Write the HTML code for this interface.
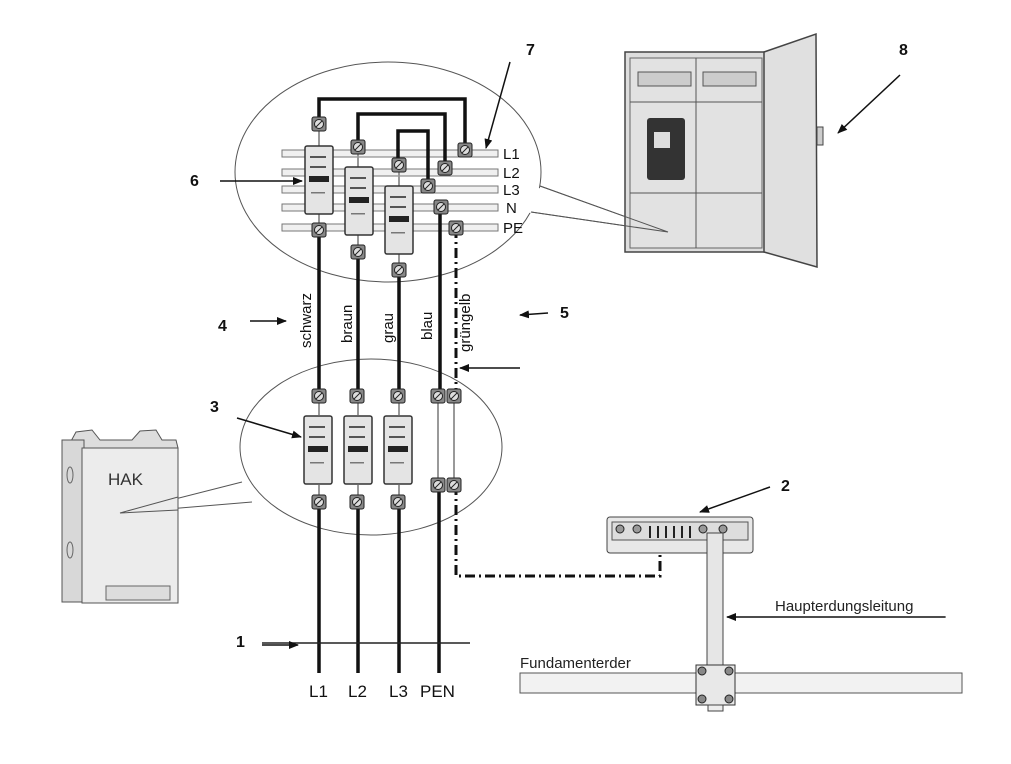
<!DOCTYPE html>
<html><head><meta charset="utf-8"><style>
html,body{margin:0;padding:0;background:#fff;}
svg{display:block;font-family:"Liberation Sans",sans-serif;}
</style></head><body>
<svg width="1011" height="764" viewBox="0 0 1011 764" xmlns="http://www.w3.org/2000/svg">
<defs>
<marker id="ah" markerWidth="10" markerHeight="8" refX="9" refY="4" orient="auto" markerUnits="userSpaceOnUse">
<path d="M0,0 L10,4 L0,8 Z" fill="#111"/></marker>
<g id="term"><rect x="-7" y="-7" width="14" height="14" rx="2" fill="#888" stroke="#222" stroke-width="1"/><circle r="4.5" fill="#ddd" stroke="#222"/><line x1="-3" y1="3" x2="3" y2="-3" stroke="#222"/></g>
<g id="fuse"><rect x="0" y="0" width="28" height="68" rx="2" fill="#e4e4e4" stroke="#333" stroke-width="1.5"/>
<rect x="5" y="10" width="16" height="2" fill="#555"/><rect x="5" y="20" width="16" height="2" fill="#555"/><rect x="4" y="30" width="20" height="6" fill="#222"/><rect x="6" y="46" width="14" height="1.5" fill="#777"/></g>
</defs>

<ellipse cx="388" cy="172" rx="153" ry="110" fill="#fff" stroke="#555" stroke-width="1"/>
<polygon points="533,186 668,232 524,212" fill="#fff"/>
<polyline points="540,186 668,232 531,212" fill="none" stroke="#555"/>
<ellipse cx="371" cy="447" rx="131" ry="88" fill="#fff" stroke="#555" stroke-width="1"/>
<polygon points="250,482 120,513 262,502" fill="#fff"/>
<polyline points="242,482 120,513 252,502" fill="none" stroke="#555"/>

<g fill="#f0f0f0" stroke="#777" stroke-width="1">
<rect x="282" y="150" width="216" height="7"/>
<rect x="282" y="169" width="216" height="7"/>
<rect x="282" y="186" width="216" height="7"/>
<rect x="282" y="204" width="216" height="7"/>
<rect x="282" y="224" width="216" height="7"/>
</g>
<g font-size="15" fill="#111"><text x="503" y="159">L1</text><text x="503" y="178">L2</text><text x="503" y="195">L3</text><text x="506" y="213">N</text><text x="503" y="233">PE</text></g>

<g fill="none" stroke="#111" stroke-width="3.5">
<path d="M319,124 V99 H465 V150"/>
<path d="M358,147 V114 H445 V168"/>
<path d="M398,165 V131 H428 V186"/>
<path d="M319,230 V396"/><path d="M358,252 V396"/><path d="M399,270 V396"/><path d="M440,207 V396"/>
<path d="M319,502 V673"/><path d="M358,502 V673"/><path d="M399,502 V673"/><path d="M439,485 V673"/>
</g>
<g fill="none" stroke="#111" stroke-width="3" stroke-dasharray="10,4,2,4">
<path d="M456,228 V396"/><path d="M456,485 V576 H660 V540"/>
</g>
<g stroke="#999" stroke-width="2"><line x1="438" y1="396" x2="438" y2="485"/><line x1="454" y1="396" x2="454" y2="485"/>
<line x1="319" y1="130" x2="319" y2="146"/><line x1="358" y1="152" x2="358" y2="167"/><line x1="399" y1="170" x2="399" y2="186"/>
<line x1="319" y1="213" x2="319" y2="225"/><line x1="358" y1="233" x2="358" y2="247"/><line x1="399" y1="253" x2="399" y2="265"/>
<line x1="319" y1="400" x2="319" y2="415"/><line x1="358" y1="400" x2="358" y2="415"/><line x1="399" y1="400" x2="399" y2="415"/>
<line x1="319" y1="485" x2="319" y2="498"/><line x1="358" y1="485" x2="358" y2="498"/><line x1="399" y1="485" x2="399" y2="498"/></g>

<use href="#fuse" x="305" y="146"/><use href="#fuse" x="345" y="167"/><use href="#fuse" x="385" y="186"/>
<use href="#fuse" x="304" y="416"/><use href="#fuse" x="344" y="416"/><use href="#fuse" x="384" y="416"/>

<use href="#term" x="319" y="124"/><use href="#term" x="358" y="147"/><use href="#term" x="399" y="165"/>
<use href="#term" x="465" y="150"/><use href="#term" x="445" y="168"/><use href="#term" x="428" y="186"/>
<use href="#term" x="441" y="207"/><use href="#term" x="456" y="228"/>
<use href="#term" x="319" y="230"/><use href="#term" x="358" y="252"/><use href="#term" x="399" y="270"/>
<use href="#term" x="319" y="396"/><use href="#term" x="357" y="396"/><use href="#term" x="398" y="396"/>
<use href="#term" x="438" y="396"/><use href="#term" x="454" y="396"/>
<use href="#term" x="319" y="502"/><use href="#term" x="357" y="502"/><use href="#term" x="398" y="502"/>
<use href="#term" x="438" y="485"/><use href="#term" x="454" y="485"/>

<g font-size="15" fill="#111">
<text transform="translate(311,348) rotate(-90)">schwarz</text>
<text transform="translate(352,343) rotate(-90)">braun</text>
<text transform="translate(393,343) rotate(-90)">grau</text>
<text transform="translate(432,340) rotate(-90)">blau</text>
<text transform="translate(470,352) rotate(-90)">grüngelb</text>
</g>

<line x1="262" y1="643" x2="470" y2="643" stroke="#222" stroke-width="1.5"/>
<g font-size="17" fill="#111"><text x="309" y="697">L1</text><text x="348" y="697">L2</text><text x="389" y="697">L3</text><text x="420" y="697">PEN</text></g>

<path d="M70,443 L76,432 L92,430 L100,440 L132,440 L140,431 L156,430 L162,440 L176,440 L178,448 L82,448 Z" fill="#ddd" stroke="#555"/>
<rect x="62" y="440" width="22" height="162" fill="#d8d8d8" stroke="#555"/>
<rect x="82" y="448" width="96" height="155" fill="#ececec" stroke="#555"/>
<rect x="106" y="586" width="64" height="14" fill="#ddd" stroke="#666"/>
<ellipse cx="70" cy="475" rx="3" ry="8" fill="none" stroke="#666"/><ellipse cx="70" cy="550" rx="3" ry="8" fill="none" stroke="#666"/>
<text x="108" y="485" font-size="17" fill="#333">HAK</text>
<polyline points="178,497 120,513 178,510" fill="none" stroke="#555"/>

<rect x="625" y="52" width="142" height="200" fill="#ddd" stroke="#444" stroke-width="1.5"/>
<rect x="630" y="58" width="132" height="190" fill="#e2e2e2" stroke="#666"/>
<line x1="696" y1="58" x2="696" y2="248" stroke="#555"/>
<line x1="630" y1="102" x2="762" y2="102" stroke="#555"/><line x1="630" y1="193" x2="762" y2="193" stroke="#555"/>
<rect x="638" y="72" width="53" height="14" fill="#ccc" stroke="#555"/><rect x="703" y="72" width="53" height="14" fill="#ccc" stroke="#555"/>
<rect x="647" y="118" width="38" height="62" rx="3" fill="#333"/><rect x="654" y="132" width="16" height="16" fill="#ddd"/>
<path d="M764,52 L816,34 L817,267 L764,252 Z" fill="#e0e0e0" stroke="#444" stroke-width="1.5"/>
<rect x="817" y="127" width="6" height="18" fill="#ccc" stroke="#444"/>
<polyline points="540,186 668,232 531,212" fill="none" stroke="#555"/>

<rect x="607" y="517" width="146" height="36" rx="3" fill="#e8e8e8" stroke="#444"/>
<rect x="612" y="522" width="136" height="18" fill="#ddd" stroke="#555"/>
<g fill="#999" stroke="#222"><circle cx="620" cy="529" r="4"/><circle cx="637" cy="529" r="4"/><circle cx="703" cy="529" r="4"/><circle cx="723" cy="529" r="4"/></g>
<g stroke="#222" stroke-width="2"><line x1="650" y1="526" x2="650" y2="538"/><line x1="658" y1="526" x2="658" y2="538"/><line x1="666" y1="526" x2="666" y2="538"/><line x1="674" y1="526" x2="674" y2="538"/><line x1="682" y1="526" x2="682" y2="538"/><line x1="690" y1="526" x2="690" y2="538"/></g>
<rect x="707" y="533" width="16" height="140" fill="#e6e6e6" stroke="#444"/>
<rect x="520" y="673" width="442" height="20" fill="#f2f2f2" stroke="#555"/>
<rect x="696" y="665" width="39" height="40" fill="#e8e8e8" stroke="#333"/>
<rect x="708" y="705" width="15" height="6" fill="#eee" stroke="#444"/>
<g fill="#888" stroke="#222"><circle cx="702" cy="671" r="4"/><circle cx="729" cy="671" r="4"/><circle cx="702" cy="699" r="4"/><circle cx="729" cy="699" r="4"/></g>
<text x="520" y="668" font-size="15" fill="#222">Fundamenterder</text>
<text x="775" y="611" font-size="15" fill="#222">Haupterdungsleitung</text>
<line x1="775" y1="617" x2="946" y2="617" stroke="#222"/>

<g font-size="16" font-weight="bold" fill="#111">
<text x="236" y="647">1</text><text x="781" y="491">2</text><text x="210" y="412">3</text>
<text x="218" y="331">4</text><text x="560" y="318">5</text><text x="190" y="186">6</text>
<text x="526" y="55">7</text><text x="899" y="55">8</text></g>
<g stroke="#111" stroke-width="1.5" marker-end="url(#ah)">
<line x1="262" y1="645" x2="298" y2="645"/>
<line x1="770" y1="487" x2="700" y2="512"/>
<line x1="237" y1="418" x2="301" y2="437"/>
<line x1="250" y1="321" x2="286" y2="321"/>
<line x1="548" y1="313" x2="520" y2="315"/>
<line x1="520" y1="368" x2="460" y2="368"/>
<line x1="220" y1="181" x2="302" y2="181"/>
<line x1="510" y1="62" x2="486" y2="148"/>
<line x1="900" y1="75" x2="838" y2="133"/>
<line x1="945" y1="617" x2="727" y2="617"/>
</g>
</svg>
</body></html>
